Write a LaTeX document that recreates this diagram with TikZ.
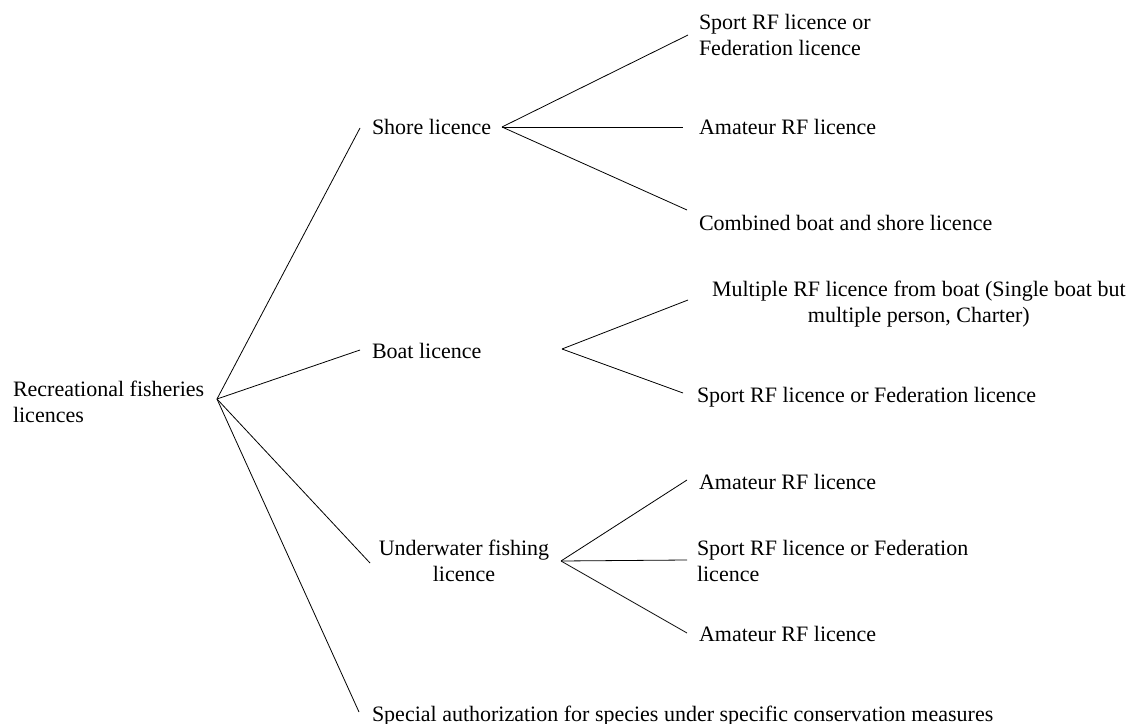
\documentclass[tikz,border=0pt]{standalone}
\usepackage{fontspec}
\setmainfont{Liberation Serif}
\begin{document}
\begin{tikzpicture}[x=0.75pt,y=-0.75pt,
  lbl/.style={inner sep=0pt,outer sep=0pt,font=\fontsize{16.5}{19.5}\selectfont,anchor=base west},
  conn/.style={line width=0.6pt,black}]
\useasboundingbox (0,0) rectangle (1132,724);
% text nodes
\node[lbl] (root) at (13,396) {\begin{tabular}[t]{@{}l@{}}Recreational fisheries\\licences\end{tabular}};
\node[lbl] (shore) at (372,134) {Shore licence};
\node[lbl] (boat) at (372,358) {Boat licence};
\node[lbl,anchor=base] (under) at (464,555) {\begin{tabular}[t]{@{}c@{}}Underwater fishing\\licence\end{tabular}};
\node[lbl] (special) at (372,721) {Special authorization for species under specific conservation measures};
\node[lbl] (s1) at (699,30) {\begin{tabular}[t]{@{}l@{}}Sport RF licence or\\Federation licence\end{tabular}};
\node[lbl] (s2) at (699,134) {Amateur RF licence};
\node[lbl] (s3) at (699,230) {Combined boat and shore licence};
\node[lbl] (b1) at (712,296) {\begin{tabular}[t]{@{}c@{}}Multiple RF licence from boat (Single boat but\\multiple person, Charter)\end{tabular}};
\node[lbl] (b2) at (697,402) {Sport RF licence or Federation licence};
\node[lbl] (u1) at (699,489) {Amateur RF licence};
\node[lbl] (u2) at (697,555) {\begin{tabular}[t]{@{}l@{}}Sport RF licence or Federation\\licence\end{tabular}};
\node[lbl] (u3) at (699,641) {Amateur RF licence};
% junctions and line ends
\coordinate (rJ) at (217,399);
\coordinate (shJ) at (502,127);
\coordinate (boJ) at (562,349);
\coordinate (unJ) at (561,561);
\coordinate (eShore) at (360,128);
\coordinate (eBoat) at (360,350);
\coordinate (eUnder) at (370,563);
\coordinate (eSpecial) at (359,712);
\coordinate (es1) at (688,35);
\coordinate (es2) at (683,127);
\coordinate (es3) at (687,210);
\coordinate (eb1) at (688,300);
\coordinate (eb2) at (683,393);
\coordinate (eu1) at (687,480);
\coordinate (eu2) at (687,560);
\coordinate (eu3) at (687,633);
% connectors
\draw[conn] (rJ) -- (eShore);
\draw[conn] (rJ) -- (eBoat);
\draw[conn] (rJ) -- (eUnder);
\draw[conn] (rJ) -- (eSpecial);
\draw[conn] (shJ) -- (es1);
\draw[conn] (shJ) -- (es2);
\draw[conn] (shJ) -- (es3);
\draw[conn] (boJ) -- (eb1);
\draw[conn] (boJ) -- (eb2);
\draw[conn] (unJ) -- (eu1);
\draw[conn] (unJ) -- (eu2);
\draw[conn] (unJ) -- (eu3);
\end{tikzpicture}
\end{document}
